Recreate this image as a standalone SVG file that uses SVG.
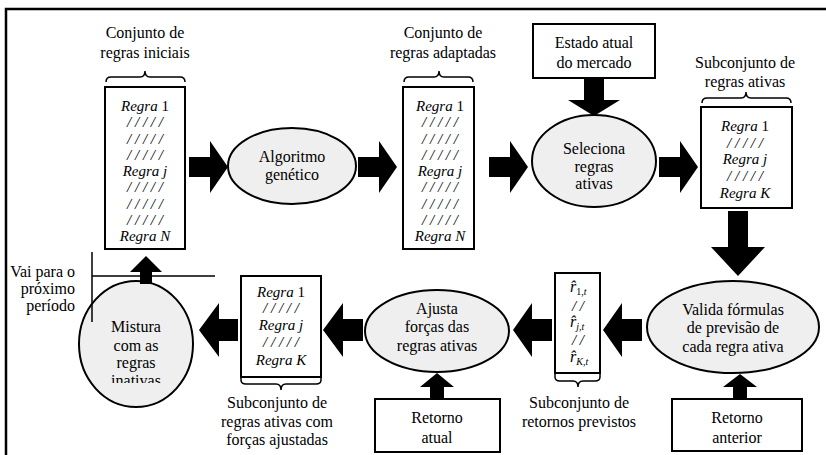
<svg xmlns="http://www.w3.org/2000/svg" width="826" height="455" viewBox="0 0 826 455">
<style>
text{font-family:"Liberation Serif","Times New Roman",serif;font-size:16px;fill:#000}
.c{text-anchor:middle}
.r{text-anchor:end}
.i{font-size:15px;text-anchor:middle}
.it{font-style:italic}
.box{fill:#fff;stroke:#000;stroke-width:2}
.ell{fill:#efefef;stroke:#000;stroke-width:2}
.br{fill:none;stroke:#000;stroke-width:1.5}
.arr{fill:#000;stroke:none}
.ln{stroke:#000;stroke-width:1.5;fill:none}
.sub{font-size:10px}
</style>
<defs>
<clipPath id="clipMix"><rect x="60" y="280" width="150" height="103"/></clipPath>
</defs>
<rect x="6" y="9" width="830" height="460" fill="#fff" stroke="#000" stroke-width="2.5"/>

<g id="rules-initial">
<text class="c" x="145" y="38">Conjunto de</text>
<text class="c" x="145" y="58">regras iniciais</text>
<path class="br" d="M106,82 Q106,77 111,77 H140 Q145,77 145,71 Q145,77 150,77 H180 Q185,77 185,82"/>
<rect class="box" x="105" y="87" width="80" height="162"/>
<text class="i" x="145" y="111"><tspan class="it">Regra</tspan> 1</text>
<text class="i it" x="145" y="127">/ / / / /</text>
<text class="i it" x="145" y="144">/ / / / /</text>
<text class="i it" x="145" y="160">/ / / / /</text>
<text class="i it" x="145" y="176">Regra j</text>
<text class="i it" x="145" y="192">/ / / / /</text>
<text class="i it" x="145" y="209">/ / / / /</text>
<text class="i it" x="145" y="225">/ / / / /</text>
<text class="i it" x="145" y="241">Regra N</text>
</g>

<g id="genetic">
<ellipse class="ell" cx="292" cy="166" rx="64" ry="38"/>
<text class="c" x="292" y="162">Algoritmo</text>
<text class="c" x="292" y="180">genético</text>
</g>

<g id="rules-adapted">
<text class="c" x="443" y="38">Conjunto de</text>
<text class="c" x="443" y="58">regras adaptadas</text>
<path class="br" d="M404,82 Q404,77 409,77 H434 Q439,77 439,71 Q439,77 444,77 H468 Q473,77 473,82"/>
<rect class="box" x="403" y="87" width="71" height="162"/>
<text class="i" x="440" y="111"><tspan class="it">Regra</tspan> 1</text>
<text class="i it" x="440" y="127">/ / / / /</text>
<text class="i it" x="440" y="144">/ / / / /</text>
<text class="i it" x="440" y="160">/ / / / /</text>
<text class="i it" x="440" y="176">Regra j</text>
<text class="i it" x="440" y="192">/ / / / /</text>
<text class="i it" x="440" y="209">/ / / / /</text>
<text class="i it" x="440" y="225">/ / / / /</text>
<text class="i it" x="440" y="241">Regra N</text>
</g>

<g id="market-state">
<rect class="box" x="533" y="24" width="122" height="54"/>
<text class="c" x="594" y="48">Estado atual</text>
<text class="c" x="594" y="68">do mercado</text>
</g>

<g id="select-active">
<ellipse class="ell" cx="594" cy="161" rx="62" ry="46"/>
<text class="c" x="594" y="154">Seleciona</text>
<text class="c" x="594" y="172">regras</text>
<text class="c" x="594" y="189">ativas</text>
</g>

<g id="rules-active">
<text class="c" x="745" y="68">Subconjunto de</text>
<text class="c" x="745" y="87">regras ativas</text>
<path class="br" d="M702,103 Q702,98 707,98 H741 Q746,98 746,92 Q746,98 751,98 H786 Q791,98 791,103"/>
<rect class="box" x="701" y="107" width="91" height="101"/>
<text class="i" x="745" y="131"><tspan class="it">Regra</tspan> 1</text>
<text class="i it" x="745" y="148">/ / / / /</text>
<text class="i it" x="745" y="164">Regra j</text>
<text class="i it" x="745" y="181">/ / / / /</text>
<text class="i it" x="745" y="198">Regra K</text>
</g>

<g id="validate">
<ellipse class="ell" cx="733" cy="327" rx="86" ry="46"/>
<text class="c" x="733" y="315">Valida fórmulas</text>
<text class="c" x="733" y="333">de previsão de</text>
<text class="c" x="733" y="352">cada regra ativa</text>
</g>

<g id="prev-return">
<rect class="box" x="672" y="399" width="130" height="52"/>
<text class="c" x="737" y="423">Retorno</text>
<text class="c" x="737" y="443">anterior</text>
</g>

<g id="predicted-returns">
<rect class="box" x="555" y="273" width="45" height="100"/>
<path class="br" d="M555,373 V377 Q555,381 560,381 H573 Q578,381 578,387 Q578,381 583,381 H595 Q600,381 600,377 V373"/>
<text class="it" x="570" y="292" font-size="15">r̂<tspan class="sub" dy="3" font-style="normal">1,</tspan><tspan class="sub">t</tspan></text>
<text class="i it" x="578" y="311">/ /</text>
<text class="it" x="570" y="327" font-size="15">r̂<tspan class="sub" dy="3">j,t</tspan></text>
<text class="i it" x="578" y="345">/ /</text>
<text class="it" x="570" y="362" font-size="15">r̂<tspan class="sub" dy="3">K,t</tspan></text>
<text class="c" x="579" y="408">Subconjunto de</text>
<text class="c" x="579" y="427">retornos previstos</text>
</g>

<g id="adjust">
<ellipse class="ell" cx="437" cy="331" rx="72" ry="41"/>
<text class="c" x="437" y="314">Ajusta</text>
<text class="c" x="437" y="332">forças das</text>
<text class="c" x="437" y="351">regras ativas</text>
</g>

<g id="current-return">
<rect class="box" x="375" y="399" width="125" height="53"/>
<text class="c" x="437" y="423">Retorno</text>
<text class="c" x="437" y="443">atual</text>
</g>

<g id="rules-adjusted">
<rect class="box" x="241" y="276" width="80" height="101"/>
<path class="br" d="M241,377 V380 Q241,384 246,384 H276 Q281,384 281,390 Q281,384 286,384 H316 Q321,384 321,380 V377"/>
<text class="i" x="281" y="297"><tspan class="it">Regra</tspan> 1</text>
<text class="i it" x="281" y="313">/ / / / /</text>
<text class="i it" x="281" y="330">Regra j</text>
<text class="i it" x="281" y="347">/ / / / /</text>
<text class="i it" x="281" y="365">Regra K</text>
<text class="c" x="277" y="408">Subconjunto de</text>
<text class="c" x="277" y="427">regras ativas com</text>
<text class="c" x="277" y="445">forças ajustadas</text>
</g>

<g id="mix">
<ellipse class="ell" cx="136" cy="344" rx="57" ry="63"/>
<g clip-path="url(#clipMix)">
<text class="c" x="136" y="332">Mistura</text>
<text class="c" x="136" y="351">com as</text>
<text class="c" x="136" y="368">regras</text>
<text class="c" x="136" y="386">inativas</text>
</g>
</g>

<g id="next-period">
<text class="r" x="75" y="277">Vai para o</text>
<text class="r" x="75" y="294">próximo</text>
<text class="r" x="75" y="311">período</text>
</g>

<g id="connectors">
<path class="ln" d="M92,252 V322 M92,276 H215"/>
<path class="arr" d="M189,157 H210 V141 L228,167 L210,193 V177 H189 Z"/>
<path class="arr" d="M358,157 H379 V141 L397,167 L379,193 V177 H358 Z"/>
<path class="arr" d="M489,157 H510 V141 L528,167 L510,193 V177 H489 Z"/>
<path class="arr" d="M659,157 H680 V141 L698,167 L680,193 V177 H659 Z"/>
<path class="arr" d="M584,79 H604 V100 H620 L594,116 L568,100 H584 Z"/>
<path class="arr" d="M728,211 H748 V247 H765 L738,276 L711,247 H728 Z"/>
<path class="arr" d="M642,319 H622 V303 L603,330 L622,357 V341 H642 Z"/>
<path class="arr" d="M552,319 H532 V303 L513,330 L532,357 V341 H552 Z"/>
<path class="arr" d="M363,319 H343 V303 L323,330 L343,357 V341 H363 Z"/>
<path class="arr" d="M238,319 H219 V303 L199,330 L219,357 V341 H238 Z"/>
<path class="arr" d="M140,284 V272 H130 L146,256 L162,272 H152 V284 Z"/>
<path class="arr" d="M430,399 V387 H420 L437,373 L454,387 H444 V399 Z"/>
<path class="arr" d="M733,399 V387 H723 L740,374 L757,387 H747 V399 Z"/>
</g>
</svg>
